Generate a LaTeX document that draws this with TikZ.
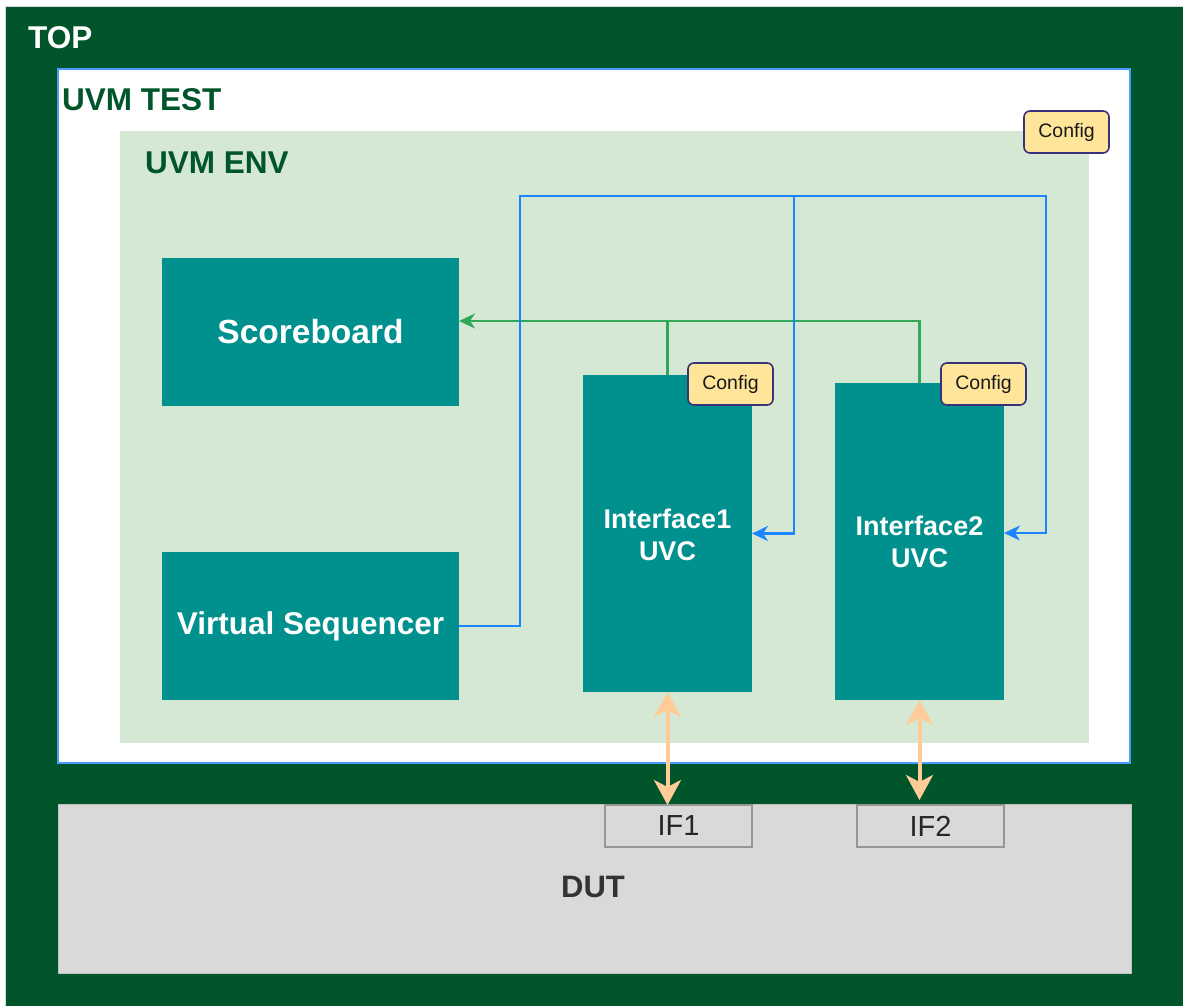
\documentclass[tikz,border=0pt]{standalone}
\usepackage{fontspec}
\setmainfont{Liberation Sans}
\usetikzlibrary{arrows.meta}

\definecolor{topgreen}{RGB}{0,85,43}
\definecolor{envgreen}{RGB}{213,232,212}
\definecolor{teal}{RGB}{0,145,142}
\definecolor{cfgfill}{RGB}{255,229,153}
\definecolor{cfgdraw}{RGB}{56,51,120}
\definecolor{busblue}{RGB}{26,133,255}
\definecolor{sbgreen}{RGB}{50,168,90}
\definecolor{peach}{RGB}{255,204,153}
\definecolor{dutgray}{RGB}{217,217,217}
\definecolor{ifdraw}{RGB}{150,150,150}
\definecolor{dutext}{RGB}{51,51,51}

\tikzset{
  frame/.style={anchor=north west, inner sep=0pt, outer sep=0pt},
  title/.style={anchor=base west, inner sep=0pt, font=\bfseries\fontsize{31.5}{36}\selectfont},
  block/.style={frame, fill=teal, text=white, align=center},
  uvclabel/.style={font=\bfseries\fontsize{27}{32}\selectfont},
  cfgbox/.style={frame, fill=cfgfill, draw=cfgdraw, line width=1.6pt, rounded corners=6pt,
    minimum width=85pt, minimum height=42pt, text=black!90, font=\fontsize{19.5}{22}\selectfont},
  ifbox/.style={frame, fill=dutgray, draw=ifdraw, line width=1.6pt,
    minimum width=147pt, minimum height=42pt, font=\fontsize{29}{34}\selectfont, text=black!85},
  busline/.style={draw=busblue, line width=2.2pt},
  sbline/.style={draw=sbgreen, line width=2.2pt},
  tipsmall/.style={-{Stealth[length=16pt,width=15pt,inset=5pt]}},
  pinlink/.style={draw=peach, line width=4pt,
    {Stealth[length=25pt,width=27pt,inset=7pt]}-{Stealth[length=25pt,width=27pt,inset=7pt]}}
}

\begin{document}
\begin{tikzpicture}[x=1pt,y=-1pt]
\useasboundingbox (0,0) rectangle (1183,1005);
\fill[white] (0,0) rectangle (1183,1005);

% testbench top level
\node[frame, fill=topgreen, draw=black!15, line width=0.8pt,
      minimum width=1180pt, minimum height=1000pt] (top) at (5,6) {};
\node[title, text=white] (toplbl) at (28,48) {TOP};

% uvm test
\node[frame, fill=white, draw=busblue!80, line width=2pt,
      minimum width=1072pt, minimum height=694pt] (test) at (58,69) {};
\node[title, text=topgreen] (testlbl) at (62,110) {UVM TEST};

% uvm env
\node[frame, fill=envgreen, minimum width=969pt, minimum height=612pt] (env) at (120,131) {};
\node[title, text=topgreen] (envlbl) at (145,173) {UVM ENV};
\node[cfgbox] (cfgenv) at (1024,111) {Config};

% components
\node[block, font=\bfseries\fontsize{33.5}{38}\selectfont,
      minimum width=297pt, minimum height=148pt] (sb) at (162,258) {Scoreboard};
\node[block, font=\bfseries\fontsize{31.5}{36}\selectfont,
      minimum width=297pt, minimum height=148pt] (vs) at (162,552) {Virtual Sequencer};
\node[block, minimum width=169pt, minimum height=317pt] (uvc1) at (583,375) {};
\node[uvclabel, text=white, align=center] (uvc1lbl) at (667.5,535) {Interface1\\UVC};
\node[block, minimum width=169pt, minimum height=317pt] (uvc2) at (835,383) {};
\node[uvclabel, text=white, align=center] (uvc2lbl) at (919.5,542) {Interface2\\UVC};

% design under test
\node[frame, fill=dutgray, draw=black!25, line width=1pt,
      minimum width=1073pt, minimum height=169pt] (dut) at (58,804) {};
\node[font=\bfseries\fontsize{31}{36}\selectfont, text=dutext] (dutlbl) at (593,887) {DUT};
\node[ifbox] (if1) at (605,805) {IF1};
\node[ifbox] (if2) at (857,805) {IF2};

% analysis connections to the scoreboard
\coordinate (sbin) at ([yshift=11pt]sb.east);
\draw[sbline] (uvc1.north) -- (uvc1.north |- sbin);
\draw[sbline, tipsmall] (uvc2.north) |- (sbin);

% virtual sequencer to agent sequencers
\coordinate (busL) at (520,196);
\coordinate (busM) at (794,196);
\coordinate (busR) at (1046,196);
\coordinate (u2in) at ([yshift=8.5pt]uvc2.east);
\draw[busline, tipsmall] (vs.east) -| (busL) -- (busR) |- (u2in);
\draw[busline, tipsmall] (busM) |- (uvc1.east);

% agent configuration objects
\node[cfgbox] (cfg1) at (688,363) {Config};
\node[cfgbox] (cfg2) at (941,363) {Config};

% pin-level interfaces
\draw[pinlink] (uvc1.south) -- (uvc1.south |- if1.north);
\draw[pinlink] (uvc2.south) -- ([yshift=5pt]uvc2.south |- if2.north);
\end{tikzpicture}
\end{document}
